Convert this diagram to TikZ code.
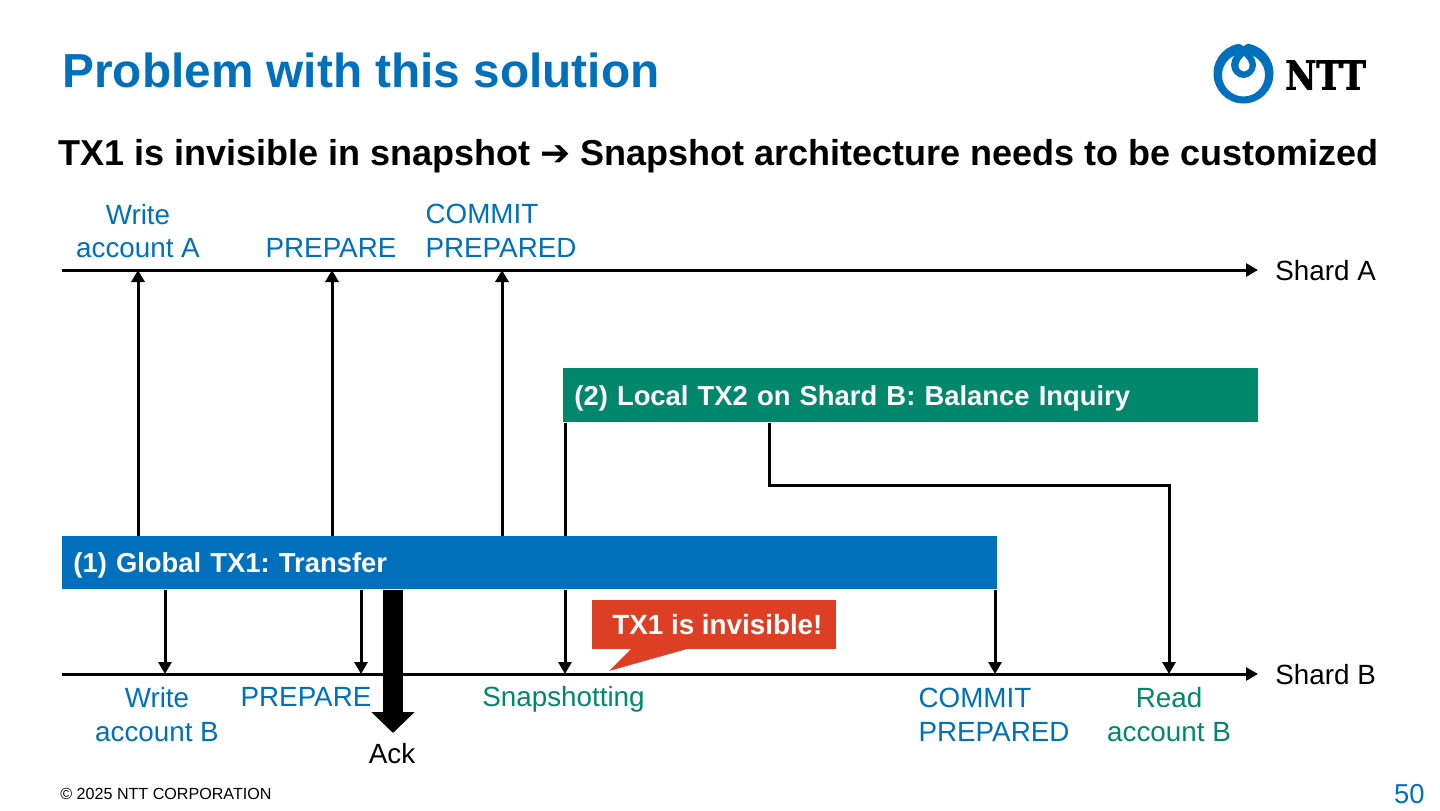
\documentclass[tikz,border=0pt]{standalone}
\usepackage{fontspec}
\setmainfont{Liberation Sans}
\newfontfamily\logofont[BoldFeatures={FakeBold=2}]{DejaVu Serif}
\newfontfamily\arrowfont{DejaVu Sans}
\usepackage{xcolor}
\usetikzlibrary{arrows.meta}

\definecolor{nttblue}{HTML}{0070BD}
\definecolor{nttgreen}{HTML}{00876C}
\definecolor{nttred}{HTML}{DD3F24}

\tikzset{
	wire/.style={line width=1.5pt, black},
	arrow/.style={wire, -{Triangle[length=6pt,width=6.5pt]}},
	label/.style={font=\fontsize{13.9}{16.8}\selectfont, align=center, inner sep=0pt},
	bluelabel/.style={label, text=nttblue},
	greenlabel/.style={label, text=nttgreen},
	blacklabel/.style={label, text=black},
	txbar/.style={anchor=north west, inner xsep=5.5pt, inner ysep=0pt, align=left, text=white,
		text height=10pt, text depth=0pt, font=\fontsize{13.7}{16.8}\selectfont\bfseries}
}

\begin{document}
\frenchspacing
\begin{tikzpicture}[x=0.5pt,y=-0.5pt]
	\useasboundingbox (0,0) rectangle (1440,810);

	% Title
	\node[anchor=west, inner sep=0pt, text=nttblue, font=\fontsize{23.88}{28}\selectfont\bfseries] (title) at (62,70) {Problem with this solution};
	\node[anchor=west, inner sep=0pt, font=\fontsize{18}{22}\selectfont\bfseries] (subtitle) at (58,156) {TX1 is invisible in snapshot {\arrowfont\symbol{"2794}} Snapshot architecture needs to be customized};

	% Logo
	\fill[nttblue, even odd rule] (1243.5,73.5) circle (30) (1243.5,75) circle (21.5);
	\fill[nttblue] (1243.5,49) .. controls (1236,52) and (1231,58) .. (1231,65) .. controls (1231,72) and (1237,78) .. (1243.5,78) .. controls (1250,78) and (1256,72) .. (1256,65) .. controls (1256,58) and (1251,52) .. (1243.5,49);
	\fill[white] (1244,56) .. controls (1240.5,60) and (1238.5,62) .. (1238.5,65) .. controls (1238.5,69) and (1241,71.5) .. (1244,71.5) .. controls (1247,71.5) and (1249.5,69) .. (1249.5,65) .. controls (1249.5,62) and (1247.5,60) .. (1244,56);
	\fill[white] (1238,43) .. controls (1240,44) and (1242,45) .. (1243.5,46) .. controls (1245,45) and (1247,44) .. (1249,43) -- cycle;
	\node[anchor=center, inner sep=0pt, xscale=0.85, font=\logofont\fontsize{20}{24}\selectfont\bfseries] (logotext) at (1325.5,75) {NTT};

	% Shard A
	\coordinate (shardAstart) at (62,270);
	\node[blacklabel, anchor=west] (shardA) at (1275,271) {Shard A};
	\coordinate (writeA) at (138,270);
	\coordinate (prepareA) at (332,270);
	\coordinate (commitA) at (502,270);
	\draw[arrow] (shardAstart) -- (1258,270);
	\node[bluelabel] (writeAlabel) at (138,231) {Write\\account A};
	\node[bluelabel] (prepareAlabel) at (331,248) {PREPARE};
	\node[bluelabel, align=left] (commitAlabel) at (501,231) {COMMIT\\PREPARED};

	% Shard B
	\coordinate (shardBstart) at (62,674);
	\node[blacklabel, anchor=west] (shardB) at (1275,675) {Shard B};
	\coordinate (writeB) at (165,674);
	\coordinate (prepareB) at (361,674);
	\coordinate (snapshot) at (565,674);
	\coordinate (commitB) at (995,674);
	\coordinate (readB) at (1169,674);
	\coordinate (turn) at (769,485);
	\draw[arrow] (shardBstart) -- (1258,674);
	\node[bluelabel] (writeBlabel) at (157,714.5) {Write\\account B};
	\node[bluelabel] (prepareBlabel) at (306,697) {PREPARE};
	\node[greenlabel] (snapshotlabel) at (563.5,699) {Snapshotting};
	\node[bluelabel, align=left] (commitBlabel) at (994,714.5) {COMMIT\\PREPARED};
	\node[greenlabel] (readBlabel) at (1169,714.5) {Read\\account B};

	% Local TX2
	\node[txbar, fill=nttgreen, minimum width=347.5pt, minimum height=27pt, text width=336.5pt] (tx2) at (563,368) {(2) Local TX2 on Shard B: Balance Inquiry};

	% Global TX1
	\node[txbar, fill=nttblue, minimum width=467.5pt, minimum height=26.5pt, text width=456.5pt] (tx1) at (62,536) {(1) Global TX1: Transfer};

	% TX1 arrows
	\draw[arrow] (tx1.north -| writeA) -- (writeA);
	\draw[arrow] (tx1.north -| prepareA) -- (prepareA);
	\draw[arrow] (tx1.north -| commitA) -- (commitA);
	\draw[arrow] (tx1.south -| writeB) -- (writeB);
	\draw[arrow] (tx1.south -| prepareB) -- (prepareB);
	\draw[arrow] (tx1.south -| commitB) -- (commitB);

	% Ack
	\node[blacklabel] (ack) at (392,754) {Ack};
	\coordinate (ackend) at (393,733);
	\draw[line width=10pt, -{Triangle[length=10.5pt,width=21pt]}] (tx1.south -| ackend) -- (ackend);

	% TX2 arrows
	\draw[wire] (tx2.south -| snapshot) -- (tx1.north -| snapshot);
	\draw[arrow] (tx1.south -| snapshot) -- (snapshot);
	\draw[arrow] (tx2.south -| turn) -- (turn) -| (readB);

	% Callout
	\coordinate (tailleft) at (633,647);
	\coordinate (tailright) at (694,647);
	\coordinate (callouttip) at (609,671);
	\fill[nttred] (tailleft) -- (callouttip) -- (tailright) -- cycle;
	\node[anchor=north west, fill=nttred, text=white, inner sep=0pt, minimum width=122pt, minimum height=24.5pt, font=\fontsize{13.9}{16.8}\selectfont\bfseries] (callout) at (592,599.5) {\hspace{3pt}TX1 is invisible!};

	% Footer
	\node[anchor=west, inner sep=0pt, font=\fontsize{8.05}{10}\selectfont] (copyright) at (60,794) {\symbol{"00A9} 2025 NTT CORPORATION};
	\node[anchor=east, inner sep=0pt, text=nttblue, font=\fontsize{13.7}{16}\selectfont] (pagenum) at (1425,794) {50};
\end{tikzpicture}
\end{document}
